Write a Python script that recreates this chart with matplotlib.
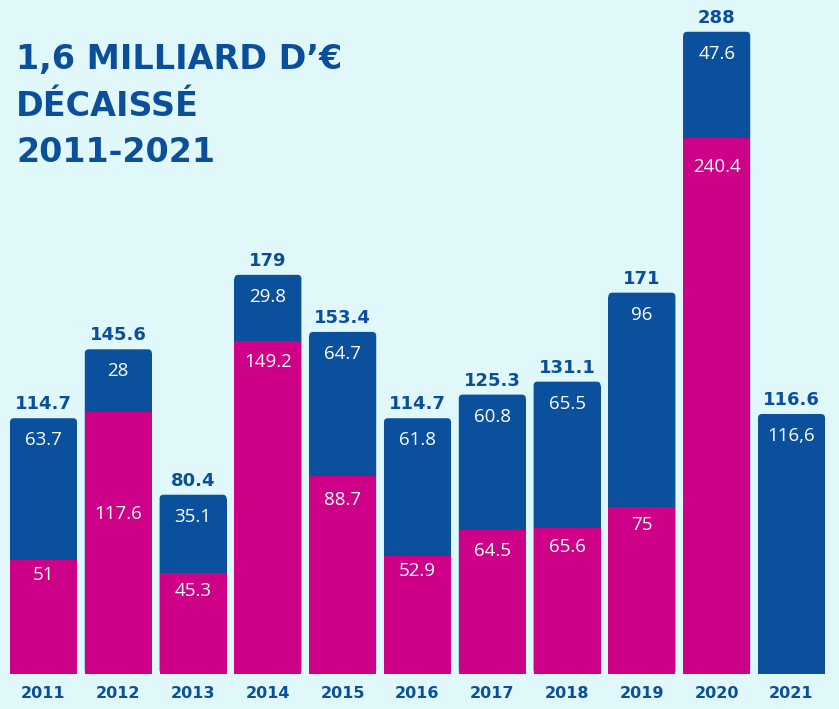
import matplotlib
matplotlib.use("Agg")
import matplotlib.pyplot as plt
from matplotlib.patches import FancyBboxPatch

# data (montants en millions d'euros)
years = ["2011", "2012", "2013", "2014", "2015", "2016", "2017", "2018", "2019", "2020", "2021"]
pink_vals = [51, 117.6, 45.3, 149.2, 88.7, 52.9, 64.5, 65.6, 75, 240.4, 0]
blue_vals = [63.7, 28, 35.1, 29.8, 64.7, 61.8, 60.8, 65.5, 96, 47.6, 116.6]
totals = [114.7, 145.6, 80.4, 179, 153.4, 114.7, 125.3, 131.1, 171, 288, 116.6]
blue_labels = ["63.7", "28", "35.1", "29.8", "64.7", "61.8", "60.8", "65.5", "96", "47.6", "116,6"]
pink_labels = ["51", "117.6", "45.3", "149.2", "88.7", "52.9", "64.5", "65.6", "75", "240.4", ""]
total_labels = ["114.7", "145.6", "80.4", "179", "153.4", "114.7", "125.3", "131.1", "171", "288", "116.6"]

BG = "#e0f8fa"
PINK = "#cf0088"
BLUE = "#0a509c"
DARK = "#0b4f9b"
BOLD = "DejaVu Sans"
LIGHT = ["Open Sans", "DejaVu Sans"]

fig = plt.figure(figsize=(8.39, 7.09), dpi=100)
fig.patch.set_facecolor(BG)
ax = fig.add_axes([0, 0, 1, 1])
ax.set_facecolor(BG)

# pixel mapping: bar pitch 74.8 px, baseline 35 px from bottom, 2.23 px per unit
ax.set_xlim(-43.5 / 74.8, (839 - 43.5) / 74.8)
ax.set_ylim(-35 / 2.23, (709 - 35) / 2.23)
ax.axis("off")

w = 0.896
rx = 4 / 74.8
ry = 4 / 2.23
x = list(range(len(years)))

for i in x:
    # rounded top, drawn on full height then squared off below
    box = FancyBboxPatch((i - w / 2, 0), w, totals[i],
                         boxstyle="round,pad=0,rounding_size=%f" % rx,
                         mutation_aspect=ry / rx, fc=BLUE, ec="none", zorder=2)
    ax.add_patch(box)
ax.bar(x, [t - ry for t in totals], width=w, color=BLUE, linewidth=0, zorder=3)
ax.bar(x, pink_vals, width=w, color=PINK, linewidth=0, zorder=4)

# magenta label offsets (px below segment top), 2012 sits lower
pink_off = [15, 102, 18, 21, 24, 15, 21, 19, 18, 29, 20]

for i in x:
    ax.annotate(total_labels[i], (i, totals[i]), xytext=(0, 14), textcoords="offset pixels",
                ha="center", va="center", fontsize=13, fontweight="bold",
                color=DARK, family=BOLD, zorder=6)
    ax.annotate(blue_labels[i], (i, totals[i]), xytext=(0, -22), textcoords="offset pixels",
                ha="center", va="center", fontsize=13.5, fontweight="normal",
                color="white", family=LIGHT, zorder=6)
    if pink_labels[i]:
        ax.annotate(pink_labels[i], (i, pink_vals[i]), xytext=(0, -pink_off[i]),
                    textcoords="offset pixels", ha="center", va="center", fontsize=13.5,
                    fontweight="normal", color="white", family=LIGHT, zorder=6)
    ax.annotate(years[i], (i, 0), xytext=(0, -20), textcoords="offset pixels",
                ha="center", va="center", fontsize=11.5, fontweight="bold",
                color=DARK, family=BOLD, zorder=6)

title_lines = ["1,6 MILLIARD D\u2019\u20ac", "D\u00c9CAISS\u00c9", "2011-2021"]
for k, line in enumerate(title_lines):
    fig.text(16 / 839, 1 - (59 + 47 * k) / 709, line, fontsize=24, fontweight="bold",
             color=DARK, family=BOLD, va="center", ha="left")

fig.savefig("out.png", dpi=100, facecolor=BG)
